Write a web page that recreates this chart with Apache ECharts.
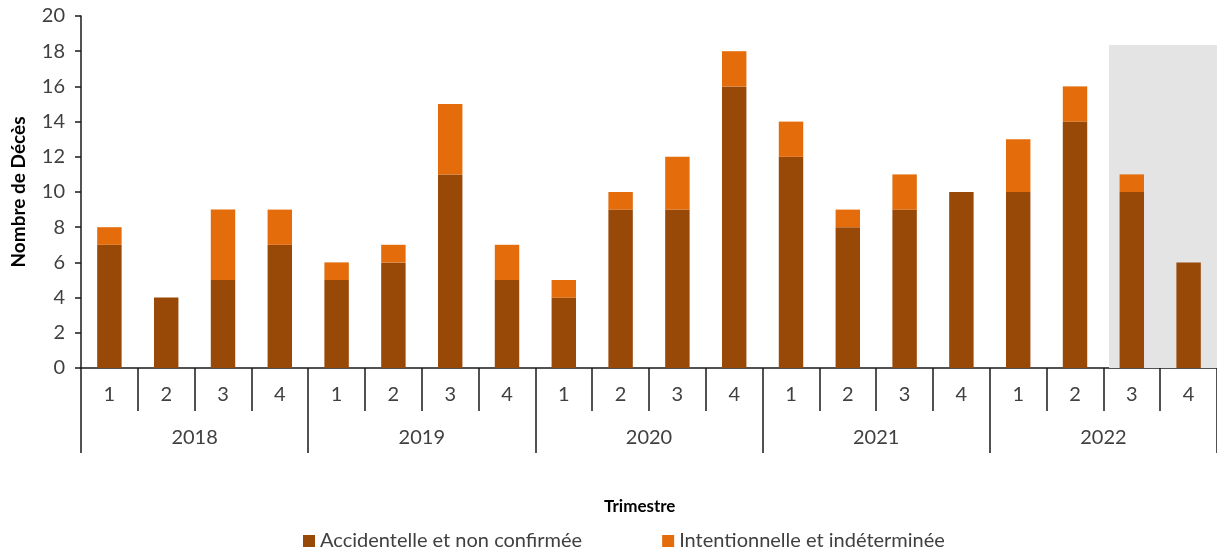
<!DOCTYPE html>
<html><head><meta charset="utf-8">
<script src="https://cdn.jsdelivr.net/npm/echarts@6/dist/echarts.min.js"></script>
<style>html,body{margin:0;padding:0;background:#fff}#c{width:1217px;height:557px}</style>
</head><body><div id="c"></div>
<script>
const quarters = ['1','2','3','4','1','2','3','4','1','2','3','4','1','2','3','4','1','2','3','4'];
const years = ['2018','2019','2020','2021','2022'];
const accidentelle = [7,4,5,7, 5,6,11,5, 4,9,9,16, 12,8,9,10, 10,14,10,6];
const intentionnelle = [1,0,4,2, 1,1,4,2, 1,1,3,2, 2,1,2,0, 3,2,1,0];
const yTicks = [0,2,4,6,8,10,12,14,16,18,20];
const shadeRange = [18.1, 20, 0, 18.35]; // x from, x to (category units), y from, y to

const font = 'Lato';
const chart = echarts.init(document.getElementById('c'));
chart.setOption({
  animation: false,
  textStyle: {fontFamily: font},
  grid: {left: 81, right: 0, top: 16, bottom: 189, containLabel: false},
  xAxis: [
    {type: 'category', data: quarters.map((q,i)=>i+'_'+q), position: 'bottom',
     axisLine: {show: true, lineStyle: {color: '#1a1a1a', width: 1.5}},
     axisTick: {show: true, interval: 0, length: 43, lineStyle: {color: '#1a1a1a', width: 1.5}},
     axisLabel: {interval: 0, margin: 17, fontSize: 20, color: '#404040', formatter: v => v.split('_')[1]},
     splitLine: {show: false}},
    {type: 'category', data: years, position: 'bottom',
     axisLine: {show: false},
     axisTick: {show: true, interval: 0, length: 85, lineStyle: {color: '#1a1a1a', width: 1.5}},
     axisLabel: {interval: 0, margin: 60, fontSize: 20, color: '#404040'},
     splitLine: {show: false}},
    {type: 'value', min: 0, max: 20, show: false}
  ],
  yAxis: {type: 'value', min: yTicks[0], max: yTicks[yTicks.length-1], interval: 2,
    name: 'Nombre de Décès', nameLocation: 'middle', nameGap: 53, nameRotate: 90,
    nameTextStyle: {fontSize: 19, fontWeight: 'bold', color: '#000', fontFamily: font},
    axisLine: {show: true, lineStyle: {color: '#1a1a1a', width: 1.5}},
    axisTick: {show: true, length: 6, lineStyle: {color: '#1a1a1a', width: 1.5}},
    axisLabel: {fontSize: 20, margin: 16, color: '#404040'},
    splitLine: {show: false}},
  legend: {bottom: 1, left: 298, itemWidth: 12, itemHeight: 12, itemGap: 80,
    icon: 'rect', textStyle: {fontSize: 20, color: '#404040', fontFamily: font},
    data: ['Accidentelle et non confirmée', 'Intentionnelle et indéterminée']},
  graphic: [{type: 'text', left: 604, top: 498,
    style: {text: 'Trimestre', font: 'bold 17px ' + font, fill: '#000'}}],
  series: [
    {type: 'line', xAxisIndex: 2, data: [], silent: true,
     markArea: {silent: true, itemStyle: {color: '#e4e4e4'},
       data: [[{coord: [shadeRange[0], shadeRange[2]]}, {coord: [shadeRange[1], shadeRange[3]]}]]}},
    {name: 'Accidentelle et non confirmée', type: 'bar', stack: 't', data: accidentelle,
     barWidth: '43%', itemStyle: {color: '#984807'}},
    {name: 'Intentionnelle et indéterminée', type: 'bar', stack: 't', data: intentionnelle,
     barWidth: '43%', itemStyle: {color: '#E46C0A'}}
  ]
});
</script></body></html>
